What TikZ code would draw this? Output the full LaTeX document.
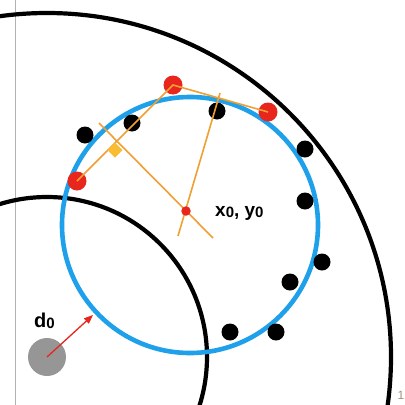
\documentclass[tikz,border=0pt]{standalone}
\usepackage{fontspec}
\setmainfont{Liberation Sans}
\usetikzlibrary{arrows.meta}
\definecolor{fitblue}{RGB}{30,160,235}
\definecolor{ptred}{RGB}{232,38,30}
\definecolor{orangeline}{RGB}{240,160,50}
\definecolor{markyellow}{RGB}{250,188,50}
\definecolor{diskgray}{RGB}{150,150,150}
\newcommand\subzero{{\fontsize{15}{15}\selectfont\raisebox{-1.2pt}{0}}}
\newcommand\subzerod{{\fontsize{15}{15}\selectfont\raisebox{-1.2pt}{0}}}
\begin{document}
\begin{tikzpicture}[x=1pt,y=-1pt,
  ring/.style={draw=black, line width=4.2pt},
  bdot/.style={circle, fill=black, minimum size=17pt, inner sep=0pt},
  rdot/.style={circle, fill=ptred, minimum size=19pt, inner sep=0pt},
  cdot/.style={circle, fill=ptred, minimum size=9.5pt, inner sep=0pt},
  oline/.style={draw=orangeline, line width=1.6pt},
  lbl/.style={inner sep=0pt, font=\bfseries\fontsize{19}{19}\selectfont}]
\useasboundingbox (0,0) rectangle (405,405);
\clip (0,0) rectangle (405,405);
\fill[white] (0,0) rectangle (405,405);
\draw[black!30, line width=1pt] (15.5,0) -- (15.5,405);
% sensor disk and ring arcs
\node[circle, fill=diskgray, minimum size=38pt, inner sep=0pt] (disk) at (47,357) {};
\draw[ring] (disk.center) circle[radius=160];
\draw[ring] (disk.center) circle[radius=344];
% fitted circle
\draw[draw=fitblue, line width=4.6pt] (190,225) circle[radius=128];
% black points
\node[bdot] (b1) at (85,135) {};
\node[bdot] (b2) at (132,123) {};
\node[bdot] (b3) at (217,111) {};
\node[bdot] (b4) at (305,149) {};
\node[bdot] (b5) at (305,201) {};
\node[bdot] (b6) at (322,262) {};
\node[bdot] (b7) at (290,282) {};
\node[bdot] (b8) at (230,332) {};
\node[bdot] (b9) at (276,332) {};
% red points
\node[rdot] (r1) at (77,181) {};
\node[rdot] (r2) at (173,85) {};
\node[rdot] (r3) at (268,112) {};
% chords
\draw[oline] (r1.center) -- (r2.center) -- (r3.center);
% perpendicular bisectors
\coordinate (p1a) at (99,123);
\coordinate (p1b) at (213,238);
\coordinate (p2a) at (220,93);
\coordinate (p2b) at (178,236);
\draw[oline] (p1a) -- (p1b);
\draw[oline] (p2a) -- (p2b);
% right-angle marker
\coordinate (foot) at (115,142.5);
\fill[markyellow] (foot) -- ++(-7.5,7.5) -- ++(7.5,7.5) -- ++(7.5,-7.5) -- cycle;
% centre
\node[cdot] (ctr) at (186,211) {};
\node[lbl, anchor=base west] (xy) at (215,216.5) {x\subzero, y\subzero};
% d0 arrow
\coordinate (onfit) at (93,315);
\draw[draw=ptred, line width=1.3pt, -{Triangle[length=9pt,width=7pt]}] (disk.center) -- (onfit);
\node[lbl, anchor=base west, font=\bfseries\fontsize{20}{20}\selectfont] (d0) at (34,327) {d\subzerod};
% page mark at the edge
\node[inner sep=0pt, anchor=base east, text=black!45!brown!60, font=\fontsize{12}{12}\selectfont] (pg) at (404.5,399) {1};
\end{tikzpicture}
\end{document}
